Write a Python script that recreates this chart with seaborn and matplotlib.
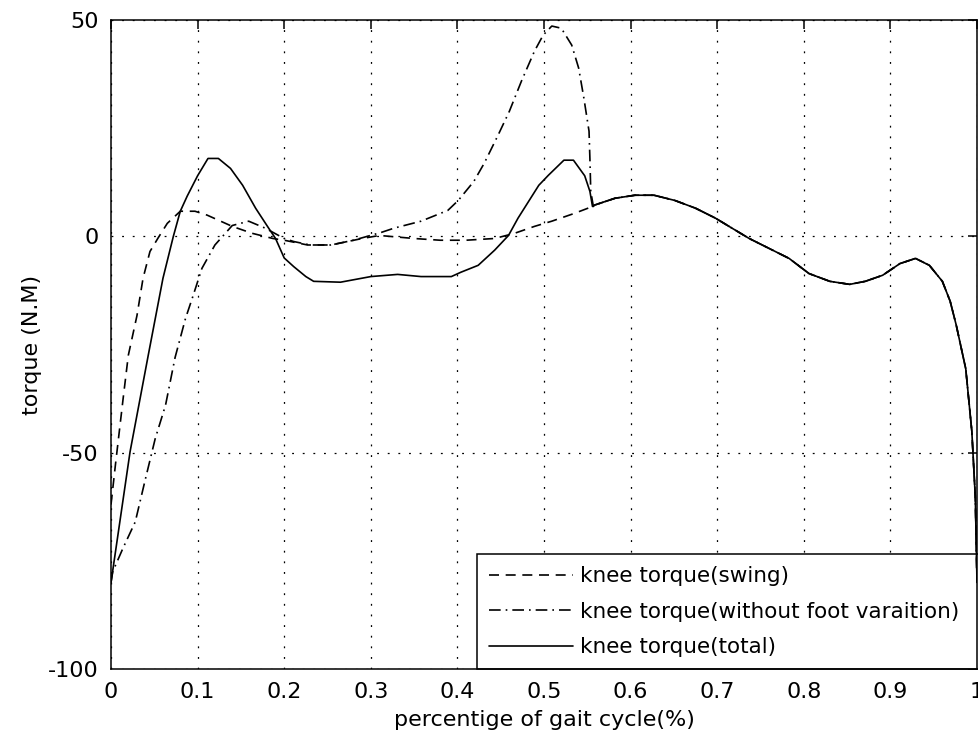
import seaborn as sns
import matplotlib.pyplot as plt
import pandas as pd

# knee torque(swing) - dashed
swing_x = [0, 0.005, 0.014, 0.02, 0.03, 0.037, 0.045, 0.054, 0.065, 0.08, 0.097, 0.111,
           0.14, 0.163, 0.187, 0.2, 0.227, 0.254, 0.29, 0.31, 0.35, 0.38, 0.41, 0.443,
           0.466, 0.489, 0.509, 0.535, 0.556]
swing_y = [-62, -53, -37.5, -27.5, -18.3, -9.7, -3.5, -0.5, 3, 5.8, 5.8, 4.9,
           2.3, 0.7, -0.5, -0.9, -2, -2, -0.5, 0.2, -0.5, -0.9, -0.9, -0.5,
           0.7, 2.3, 3.5, 5.3, 6.9]

# knee torque(without foot varaition) - dash-dot
nofoot_x = [0, 0.002, 0.014, 0.028, 0.039, 0.051, 0.063, 0.074, 0.086, 0.095, 0.105, 0.12,
            0.14, 0.159, 0.178, 0.2, 0.211, 0.23, 0.254, 0.28, 0.312, 0.327, 0.358, 0.389,
            0.401, 0.419, 0.431, 0.447, 0.46, 0.474, 0.489, 0.499, 0.509, 0.52, 0.532,
            0.54, 0.546, 0.552, 0.553, 0.554, 0.557]
nofoot_y = [-80, -77.5, -72, -66, -56.7, -46.8, -39, -28, -19, -13.6, -7.4, -2,
            2.5, 3.5, 1.9, -0.5, -1.2, -2, -2, -0.9, 0.9, 1.9, 3.5, 6,
            8.3, 12.7, 16.9, 23.4, 28.9, 35.9, 42.8, 46.5, 48.6, 48.1, 44.2,
            38.9, 32, 24.3, 18, 10.4, 6.9]

# knee torque(total) - solid
total_x = [0, 0.022, 0.043, 0.06, 0.072, 0.08, 0.088, 0.1, 0.112, 0.124, 0.138, 0.152,
           0.167, 0.182, 0.19, 0.2, 0.211, 0.225, 0.234, 0.265, 0.3, 0.331, 0.358, 0.393,
           0.404, 0.424, 0.443, 0.459, 0.47, 0.482, 0.494, 0.505, 0.523, 0.534, 0.547,
           0.553, 0.556]
total_y = [-80, -49.8, -27.5, -9.7, 0, 5.8, 9.3, 14, 18, 18, 15.7, 11.8,
           6.5, 1.9, -0.5, -5, -7, -9.3, -10.4, -10.6, -9.3, -8.8, -9.3, -9.3,
           -8.3, -6.7, -3.2, 0.2, 4.2, 8, 11.8, 14.1, 17.6, 17.6, 14,
           10.4, 6.9]

# shared part of all three curves after ~0.56
common_x = [0.558, 0.582, 0.605, 0.627, 0.651, 0.675, 0.698, 0.717, 0.737, 0.76, 0.783,
            0.806, 0.83, 0.853, 0.871, 0.891, 0.911, 0.929, 0.945, 0.96, 0.969, 0.976,
            0.987, 0.994, 0.998, 1.0]
common_y = [7.2, 8.8, 9.5, 9.5, 8.3, 6.5, 4.2, 1.9, -0.5, -2.8, -5.1,
            -8.6, -10.4, -11.1, -10.4, -9, -6.3, -5.1, -6.7, -10.4, -15, -20.5,
            -30.6, -45, -60, -80]

labels = ["knee torque(swing)", "knee torque(without foot varaition)", "knee torque(total)"]

sns.set_theme(style="white")
plt.rcParams['font.family'] = ['DejaVu Sans']
plt.rcParams['axes.unicode_minus'] = False

fig = plt.figure(figsize=(9.79, 7.42), dpi=100)
ax = fig.add_axes([111 / 979, 1 - 669 / 742, 866 / 979, 649 / 742])

series = [(swing_x, swing_y, (6, 4)), (nofoot_x, nofoot_y, (7, 3, 1, 3)), (total_x, total_y, None)]
for (xs, ys, dash), lab in zip(series, labels):
    df = pd.DataFrame({"x": xs + common_x, "y": ys + common_y})
    line_ax = sns.lineplot(data=df, x="x", y="y", ax=ax, color="black", lw=1.2,
                           sort=False, estimator=None, label=lab)
    if dash is not None:
        line_ax.lines[-1].set_dashes(dash)

ax.set_xlim(0, 1)
ax.set_ylim(-100, 50)
ax.set_xticks([i / 10 for i in range(11)])
ax.set_xticklabels(["0", "0.1", "0.2", "0.3", "0.4", "0.5", "0.6", "0.7", "0.8", "0.9", "1"])
ax.set_yticks([-100, -50, 0, 50])
ax.tick_params(direction="in", length=6.5, width=1.1, top=True, right=True,
               labelsize=16, colors="black", pad=9)
ax.grid(True, color="black", linestyle=(0, (1.5, 7)), linewidth=0.9)
for s in ax.spines.values():
    s.set_color("black")
    s.set_linewidth(1.1)

ax.set_xlabel("percentige of gait cycle(%)", fontsize=16, color="black", labelpad=6)
ax.set_ylabel("torque (N.M)", fontsize=16, color="black", labelpad=4)

# legend box runs past the right edge of the picture, like the reference
leg_x0 = (477 - 111) / 866
leg = ax.legend(loc="lower left", bbox_to_anchor=(leg_x0, 0, 1.04 - leg_x0, 0.2), mode="expand",
                borderaxespad=0, fontsize=15.5, frameon=True, fancybox=False, framealpha=1,
                edgecolor="black", handlelength=3.9, handletextpad=0.35, labelspacing=0.72,
                borderpad=0.55)
leg.get_frame().set_linewidth(1.1)
leg.set_zorder(1.5)
for t in leg.get_texts():
    t.set_color("black")

fig.savefig("out.png", dpi=100)
